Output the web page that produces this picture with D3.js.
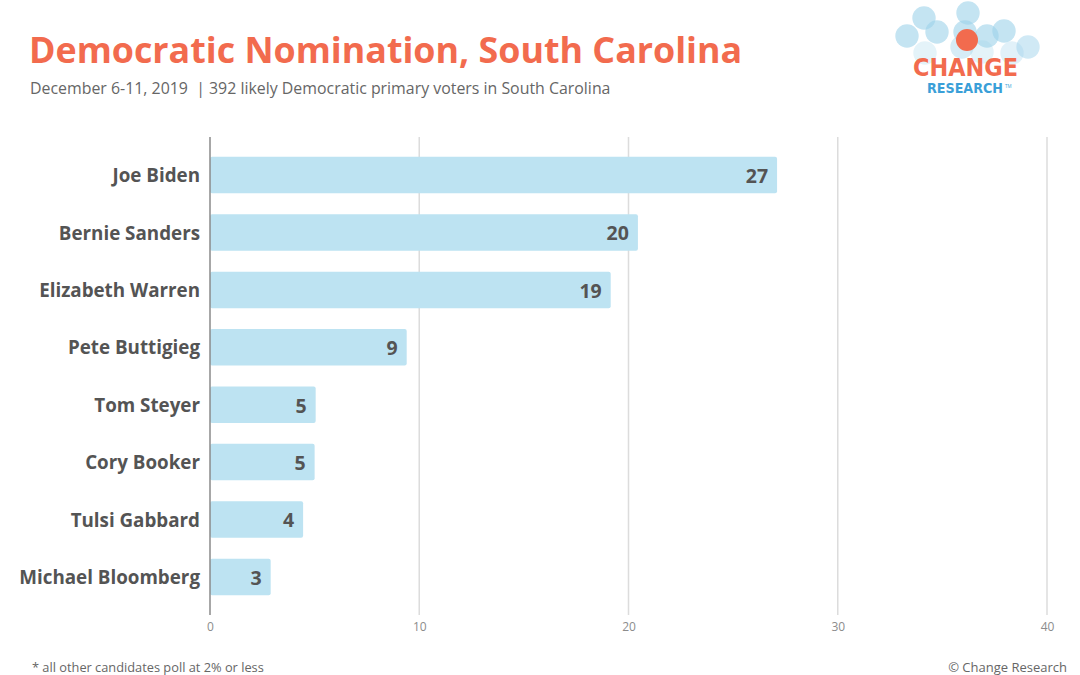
<!DOCTYPE html>
<html>
<head>
<meta charset="utf-8">
<script src="https://cdn.jsdelivr.net/npm/d3@7"></script>
<style>
  html, body { margin: 0; padding: 0; background: #fff; }
  svg { display: block; }
  text { font-family: "Open Sans", Lato, sans-serif; }
</style>
</head>
<body>
<svg id="chart" width="1080" height="675"></svg>
<script>
// ---- data ----
const candidates = ["Joe Biden", "Bernie Sanders", "Elizabeth Warren", "Pete Buttigieg",
                    "Tom Steyer", "Cory Booker", "Tulsi Gabbard", "Michael Bloomberg"];
const values = [27.1, 20.45, 19.15, 9.4, 5.05, 5.0, 4.45, 2.9];
const valueLabels = ["27", "20", "19", "9", "5", "5", "4", "3"];
const xTicks = [0, 10, 20, 30, 40];

const title = "Democratic Nomination, South Carolina";
const subtitle = "December 6-11, 2019  | 392 likely Democratic primary voters in South Carolina";
const footnote = "* all other candidates poll at 2% or less";
const credit = "\u00A9 Change Research";

const data = candidates.map((c, i) => ({ name: c, value: values[i], label: valueLabels[i] }));

const svg = d3.select("#chart");
const FONT = "'Open Sans', Lato, sans-serif";

const x = d3.scaleLinear().domain([0, 40]).range([210, 1047]);
const y = d3.scaleBand().domain(candidates).range([137, 615]).paddingInner(0.364).paddingOuter(0.346);

// gridlines
svg.append("g").selectAll("line").data(xTicks.filter(t => t !== 0)).join("line")
  .attr("x1", d => x(d)).attr("x2", d => x(d))
  .attr("y1", 137).attr("y2", 615)
  .attr("stroke", "#dcdcdc").attr("stroke-width", 1.5);

// bars
svg.append("g").selectAll("rect").data(data).join("rect")
  .attr("x", x(0)).attr("y", d => y(d.name))
  .attr("width", d => x(d.value) - x(0))
  .attr("height", y.bandwidth())
  .attr("rx", 2)
  .attr("fill", "#bde3f2");

// zero axis line
svg.append("line")
  .attr("x1", x(0)).attr("x2", x(0)).attr("y1", 137).attr("y2", 615)
  .attr("stroke", "#8a8a8a").attr("stroke-width", 1.5);

// x tick labels
const xAxis = d3.axisBottom(x).tickValues(xTicks).tickSize(0).tickPadding(0);
const gx = svg.append("g").attr("transform", "translate(0,622)").call(xAxis);
gx.select(".domain").remove();
gx.selectAll("text")
  .attr("fill", "#8c8c8c").attr("font-size", 12)
  .style("font-family", FONT);

// category labels
const yAxis = d3.axisLeft(y).tickSize(0).tickPadding(0);
const gy = svg.append("g").attr("transform", "translate(200,1)").call(yAxis);
gy.select(".domain").remove();
gy.selectAll("text")
  .attr("fill", "#545454").attr("font-size", 18.8).attr("font-weight", 700)
  .style("font-family", FONT);

// value labels
svg.append("g").selectAll("text").data(data).join("text")
  .attr("x", d => x(d.value) - 9)
  .attr("y", d => y(d.name) + y.bandwidth() / 2 + 1)
  .attr("dy", "0.35em")
  .attr("text-anchor", "end")
  .attr("fill", "#545454").attr("font-size", 19.5).attr("font-weight", 700)
  .text(d => d.label);

// title & subtitle
svg.append("text").attr("x", 29).attr("y", 63)
  .attr("fill", "#f26b4e").attr("font-size", 35.8).attr("font-weight", 700)
  .text(title);
svg.append("text").attr("x", 30).attr("y", 94)
  .attr("fill", "#666").attr("font-size", 15.9)
  .attr("xml:space", "preserve")
  .text(subtitle);

// footer
svg.append("text").attr("x", 32).attr("y", 672)
  .attr("fill", "#666").attr("font-size", 12.8).text(footnote);
svg.append("text").attr("x", 1067).attr("y", 672).attr("text-anchor", "end")
  .attr("fill", "#666").attr("font-size", 13).text(credit);

// logo
const logo = svg.append("g");
const bubbles = [
  [924, 18, 1], [968, 13, 1], [937, 32, 1], [907, 36, 1], [965, 32, 1], [987, 36, 1],
  [1004, 31, 1], [1028, 47, 0.8], [925, 53, 0.45], [1012, 53, 0.5], [962, 47, 0.7], [982, 52, 0.45]
];
logo.selectAll("circle.b").data(bubbles).join("circle")
  .attr("class", "b")
  .attr("cx", d => d[0]).attr("cy", d => d[1]).attr("r", 11.7)
  .attr("fill", "#9dd2ea").attr("fill-opacity", d => 0.6 * d[2]);
logo.append("circle").attr("cx", 967).attr("cy", 40).attr("r", 11)
  .attr("fill", "#f26b4e");
logo.append("text").attr("x", 913).attr("y", 76)
  .attr("fill", "#f26b4e").attr("font-size", 25).attr("font-weight", 700)
  .attr("textLength", 105).attr("lengthAdjust", "spacingAndGlyphs")
  .style("font-family", "'DejaVu Sans Condensed', 'Liberation Sans Narrow', sans-serif")
  .text("CHANGE");
logo.append("text").attr("x", 927).attr("y", 93)
  .attr("fill", "#3a9fd8").attr("font-size", 13.5).attr("font-weight", 700)
  .attr("textLength", 76).attr("lengthAdjust", "spacingAndGlyphs")
  .style("font-family", "'DejaVu Sans Condensed', 'Liberation Sans Narrow', sans-serif")
  .text("RESEARCH");
logo.append("text").attr("x", 1005).attr("y", 87.5)
  .attr("fill", "#3a9fd8").attr("font-size", 4.5).text("TM");
</script>
</body>
</html>
